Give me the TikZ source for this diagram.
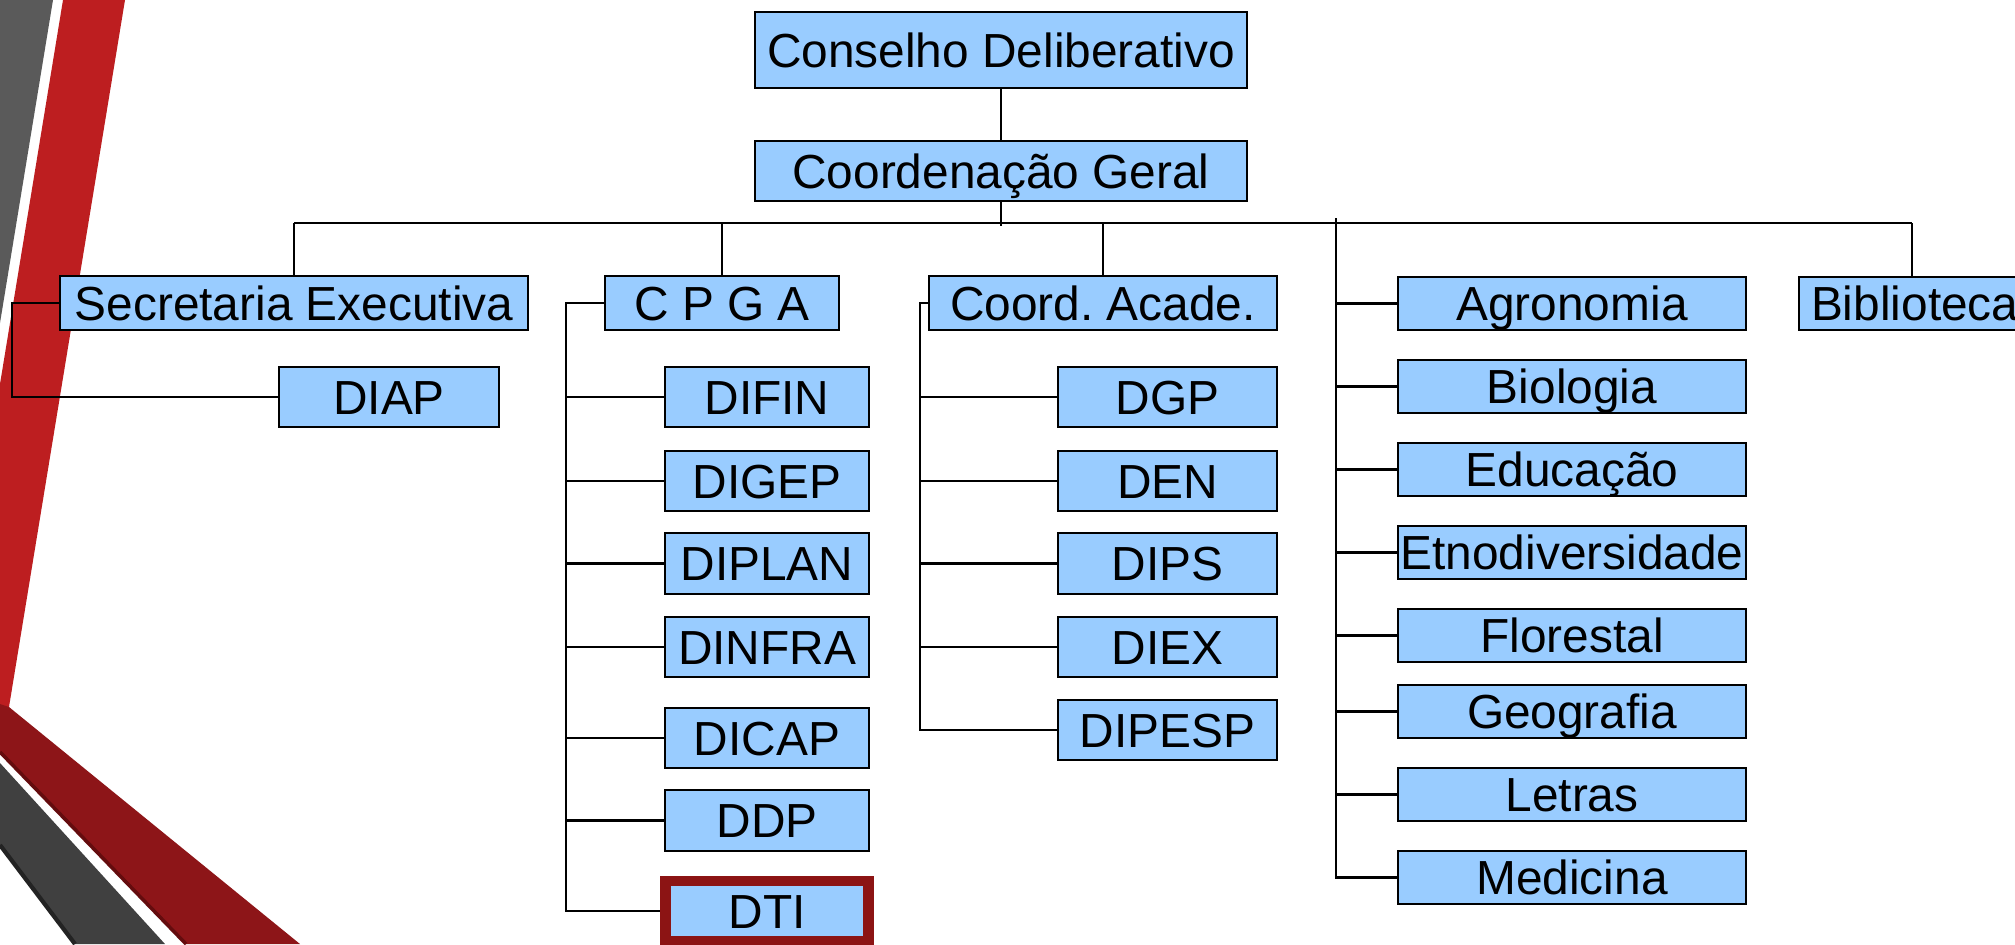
\documentclass[tikz,border=0pt]{standalone}
\usepackage{fontspec}
\setmainfont{Liberation Sans}
\frenchspacing
\definecolor{boxblue}{RGB}{153,204,255}
\definecolor{bandred}{RGB}{189,30,32}
\definecolor{darkband}{RGB}{141,21,24}
\definecolor{darkerband}{RGB}{100,12,14}
\definecolor{graytop}{RGB}{90,90,90}
\definecolor{graybot}{RGB}{64,64,64}
\definecolor{grayline}{RGB}{35,35,35}
\definecolor{dtired}{RGB}{140,20,20}
\tikzset{
  box/.style={draw=black, fill=boxblue, line width=0.6pt, inner sep=0pt,
    font=\fontsize{13.6pt}{15pt}\selectfont, text height=9.8pt, text depth=0pt},
  wh/.style 2 args={minimum width=#1*0.01cm, minimum height=#2*0.01cm},
  conn/.style={draw=black, line width=0.6pt},
}
\begin{document}
\begin{tikzpicture}[x=0.01cm, y=-0.01cm]
\clip (0,0) rectangle (2015,944);
\fill[white] (0,0) rectangle (2015,944);
% left decoration
\fill[graytop] (0,0) -- (53,0) -- (0,323) -- cycle;
\fill[bandred] (63,0) -- (125,0) -- (9,707) -- (0,707) -- (0,384) -- cycle;
\fill[darkband] (0,704) -- (9,707) -- (300,944) -- (186,944) -- (0,752) -- cycle;
\draw[darkerband, line width=1pt] (0,752) -- (186,944);
\fill[graybot] (0,763) -- (165,944) -- (75,944) -- (0,845) -- cycle;
\draw[grayline, line width=1.2pt] (0,845) -- (75,944);

% top
\node[box, wh={492}{76}] (cons) at (1001,50) {Conselho Deliberativo};
\node[box, wh={492}{60}] (cg) at (1001,171) {Coordenação Geral};

% second level
\node[box, wh={468}{54}] (sec) at (294,303) {Secretaria Executiva};
\node[box, wh={234}{54}] (cpga) at (722,303) {C P G A};
\node[box, wh={348}{54}] (ca) at (1103,303) {Coord. Acade.};
\node[box, anchor=west, minimum height=0.53cm, inner xsep=0.12cm, text width=2.3cm, align=left] (bib) at (1798,303.5) {Biblioteca};

% Secretaria
\node[box, wh={220}{60}] (diap) at (389,397) {DIAP};

% CPGA
\node[box, wh={204}{60}] (difin) at (767,397) {DIFIN};
\node[box, wh={204}{60}] (digep) at (767,481) {DIGEP};
\node[box, wh={204}{61}] (diplan) at (767,563.5) {DIPLAN};
\node[box, wh={204}{60}] (dinfra) at (767,647) {DINFRA};
\node[box, wh={204}{60}] (dicap) at (767,738) {DICAP};
\node[box, wh={204}{61}] (ddp) at (767,820.5) {DDP};
\node[box, draw=dtired, line width=3.1pt, wh={203}{60}] (dti) at (767,911) {DTI};

% Coord. Acade.
\node[box, wh={219}{60}] (dgp) at (1167.5,397) {DGP};
\node[box, wh={219}{60}] (den) at (1167.5,481) {DEN};
\node[box, wh={219}{61}] (dips) at (1167.5,563.5) {DIPS};
\node[box, wh={219}{60}] (diex) at (1167.5,647) {DIEX};
\node[box, wh={219}{60}] (dipesp) at (1167.5,730) {DIPESP};

% Cursos
\node[box, wh={348}{53}] (agro) at (1572,303.5) {Agronomia};
\node[box, wh={348}{53}] (bio) at (1572,386.5) {Biologia};
\node[box, wh={348}{53}] (edu) at (1572,469.5) {Educação};
\node[box, wh={348}{53}] (etno) at (1572,552.5) {Etnodiversidade};
\node[box, wh={348}{53}] (flor) at (1572,635.5) {Florestal};
\node[box, wh={348}{53}] (geo) at (1572,711.5) {Geografia};
\node[box, wh={348}{53}] (let) at (1572,794.5) {Letras};
\node[box, wh={348}{53}] (med) at (1572,877.5) {Medicina};

% connectors
\coordinate (busL) at (294,223);
\coordinate (busR) at (1912,223);
\coordinate (cgEnd) at (1001,226);
\coordinate (cursTop) at (1336,218);
\coordinate (secX) at (12,0);
\coordinate (cpgaX) at (566,0);
\coordinate (caX) at (920,0);

\draw[conn] (cons.south) -- (cg.north);
\draw[conn] (cg.south) -- (cgEnd);
\draw[conn] (busL) -- (busR);
\draw[conn] (busL) -- (sec.north);
\draw[conn] (cpga.north |- busL) -- (cpga.north);
\draw[conn] (ca.north |- busL) -- (ca.north);
\draw[conn] (busR) -- (busR |- bib.north);

% Secretaria bracket
\draw[conn] (sec.west) -- (secX |- sec.west) -- (secX |- diap.west) -- (diap.west);

% CPGA bracket
\draw[conn] (cpga.west) -- (cpgaX |- cpga.west) -- (cpgaX |- dti.west) -- (dti.west);
\foreach \n in {difin,digep,diplan,dinfra,dicap,ddp}
  \draw[conn] (cpgaX |- \n.west) -- (\n.west);

% Coord. Acade. bracket
\draw[conn] (ca.west) -- (caX |- ca.west) -- (caX |- dipesp.west) -- (dipesp.west);
\foreach \n in {dgp,den,dips,diex}
  \draw[conn] (caX |- \n.west) -- (\n.west);

% Cursos
\draw[conn] (cursTop) -- (cursTop |- med.west) -- (med.west);
\foreach \n in {agro,bio,edu,etno,flor,geo,let}
  \draw[conn] (cursTop |- \n.west) -- (\n.west);
\end{tikzpicture}
\end{document}
